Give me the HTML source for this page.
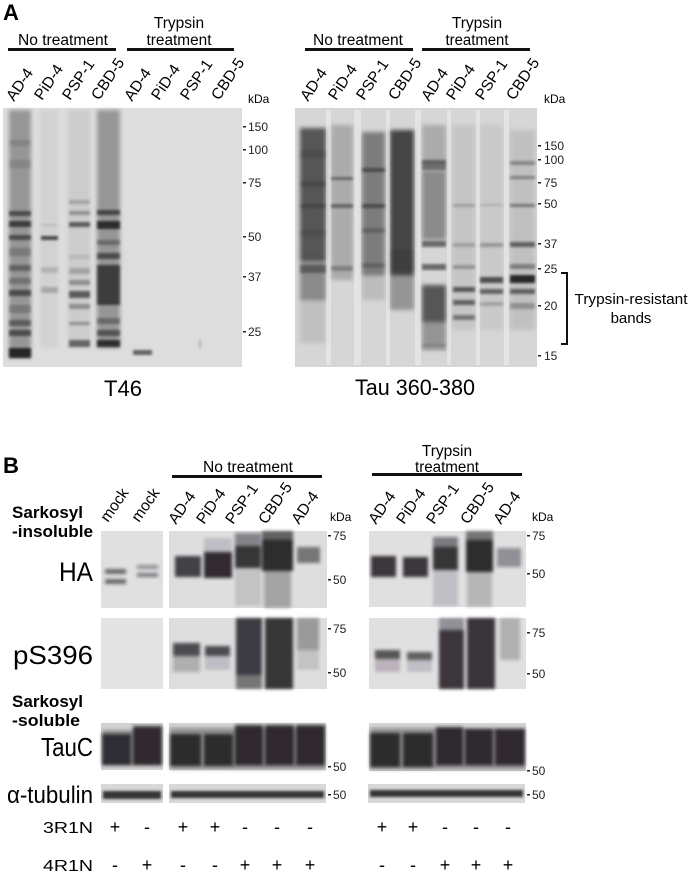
<!DOCTYPE html>
<html><head><meta charset="utf-8"><style>
html,body{margin:0;padding:0;background:#fff;}
svg{display:block;font-family:"Liberation Sans",Arial,sans-serif;}
</style></head><body>
<svg width="691" height="873" viewBox="0 0 691 873" xmlns="http://www.w3.org/2000/svg">
<defs>
<filter id="f" x="-50%" y="-50%" width="200%" height="200%"><feGaussianBlur stdDeviation="1.2"/></filter>
<filter id="fb" x="-50%" y="-50%" width="200%" height="200%"><feGaussianBlur stdDeviation="1.7"/></filter>
<filter id="f2" x="-50%" y="-50%" width="200%" height="200%"><feGaussianBlur stdDeviation="2.2"/></filter>
</defs>

<!-- ============ PANEL A ============ -->
<text x="3" y="20" font-size="22" font-weight="bold">A</text>
<text x="18" y="45" font-size="15.5" textLength="90" lengthAdjust="spacingAndGlyphs">No treatment</text>
<rect x="8" y="48" width="108" height="3" fill="#111"/>
<text x="179" y="28" font-size="15.5" text-anchor="middle">Trypsin</text>
<text x="179" y="45" font-size="15.5" text-anchor="middle" textLength="65" lengthAdjust="spacingAndGlyphs">treatment</text>
<rect x="127" y="48" width="107" height="3" fill="#111"/>

<text x="313" y="45" font-size="15.5" textLength="90" lengthAdjust="spacingAndGlyphs">No treatment</text>
<rect x="305" y="48" width="108" height="3" fill="#111"/>
<text x="477" y="28" font-size="15.5" text-anchor="middle">Trypsin</text>
<text x="477" y="45" font-size="15.5" text-anchor="middle" textLength="63" lengthAdjust="spacingAndGlyphs">treatment</text>
<rect x="422" y="48" width="108" height="3" fill="#111"/>

<g font-size="15.5">
<text transform="translate(14,102) rotate(-56)">AD-4</text>
<text transform="translate(42,101) rotate(-56)">PiD-4</text>
<text transform="translate(70,101) rotate(-56)">PSP-1</text>
<text transform="translate(99,101) rotate(-56)">CBD-5</text>
<text transform="translate(132,102) rotate(-56)">AD-4</text>
<text transform="translate(159,101) rotate(-56)">PiD-4</text>
<text transform="translate(188,101) rotate(-56)">PSP-1</text>
<text transform="translate(219,101) rotate(-56)">CBD-5</text>

<text transform="translate(308,102) rotate(-56)">AD-4</text>
<text transform="translate(336,101) rotate(-56)">PiD-4</text>
<text transform="translate(364,101) rotate(-56)">PSP-1</text>
<text transform="translate(396,101) rotate(-56)">CBD-5</text>
<text transform="translate(429,102) rotate(-56)">AD-4</text>
<text transform="translate(454,101) rotate(-56)">PiD-4</text>
<text transform="translate(483,101) rotate(-56)">PSP-1</text>
<text transform="translate(514,101) rotate(-56)">CBD-5</text>
</g>
<text x="248" y="103" font-size="12">kDa</text>
<text x="544" y="103" font-size="12">kDa</text>

<!-- left blot A -->
<rect x="3" y="108" width="239" height="259" fill="#dddddd"/>
<g fill="#000" filter="url(#f2)">
 <rect x="9" y="110" width="22" height="248" fill-opacity=".32"/>
 <rect x="97" y="110" width="23" height="238" fill-opacity=".32"/>
 <rect x="40" y="110" width="18" height="238" fill-opacity=".05"/>
 <rect x="68" y="110" width="22" height="238" fill-opacity=".08"/>
</g>
<g fill="#000" filter="url(#f)">
 <rect x="9" y="140" width="22" height="6" fill-opacity=".12"/>
 <rect x="9" y="160" width="22" height="8" fill-opacity=".12"/>
 <rect x="9" y="211" width="22" height="5" fill-opacity=".5"/>
 <rect x="9" y="221" width="22" height="6" fill-opacity=".6"/>
 <rect x="9" y="235" width="22" height="5" fill-opacity=".5"/>
 <rect x="9" y="248" width="22" height="8" fill-opacity=".2"/>
 <rect x="9" y="265" width="22" height="6" fill-opacity=".35"/>
 <rect x="9" y="278" width="22" height="6" fill-opacity=".25"/>
 <rect x="9" y="290" width="22" height="6" fill-opacity=".5"/>
 <rect x="9" y="305" width="22" height="8" fill-opacity=".2"/>
 <rect x="9" y="320" width="22" height="6" fill-opacity=".4"/>
 <rect x="9" y="330" width="22" height="6" fill-opacity=".5"/>
 <rect x="9" y="348" width="22" height="10" fill-opacity=".75"/>

 <rect x="41" y="236" width="17" height="4" fill-opacity=".65"/>
 <rect x="41" y="224" width="17" height="2" fill-opacity=".12"/>
 <rect x="41" y="267" width="17" height="6" fill-opacity=".15"/>
 <rect x="41" y="287" width="17" height="6" fill-opacity=".2"/>

 <rect x="69" y="200" width="21" height="4" fill-opacity=".2"/>
 <rect x="69" y="211" width="21" height="4" fill-opacity=".3"/>
 <rect x="69" y="222" width="21" height="5" fill-opacity=".55"/>
 <rect x="69" y="255" width="21" height="4" fill-opacity=".1"/>
 <rect x="69" y="268" width="21" height="6" fill-opacity=".2"/>
 <rect x="69" y="280" width="21" height="5" fill-opacity=".3"/>
 <rect x="69" y="291" width="21" height="7" fill-opacity=".55"/>
 <rect x="69" y="304" width="21" height="5" fill-opacity=".3"/>
 <rect x="69" y="322" width="21" height="3" fill-opacity=".3"/>
 <rect x="69" y="340" width="21" height="7" fill-opacity=".5"/>

 <rect x="97" y="210" width="23" height="5" fill-opacity=".55"/>
 <rect x="97" y="221" width="23" height="8" fill-opacity=".7"/>
 <rect x="97" y="240" width="23" height="5" fill-opacity=".3"/>
 <rect x="97" y="253" width="23" height="6" fill-opacity=".5"/>
 <rect x="97" y="265" width="23" height="40" fill-opacity=".6"/>
 <rect x="97" y="318" width="23" height="6" fill-opacity=".3"/>
 <rect x="97" y="330" width="23" height="6" fill-opacity=".45"/>
 <rect x="97" y="340" width="23" height="7" fill-opacity=".7"/>

 <rect x="133" y="350" width="19" height="5" fill-opacity=".55"/>
 <rect x="199" y="340" width="2" height="8" fill-opacity=".2"/>
</g>

<g font-size="12" fill="#222">
 <rect x="243" y="126" width="3" height="1.5"/><text x="248" y="131">150</text>
 <rect x="243" y="149" width="3" height="1.5"/><text x="248" y="154">100</text>
 <rect x="243" y="182" width="3" height="1.5"/><text x="248" y="187">75</text>
 <rect x="243" y="236" width="3" height="1.5"/><text x="248" y="241">50</text>
 <rect x="243" y="276" width="3" height="1.5"/><text x="248" y="281">37</text>
 <rect x="243" y="331" width="3" height="1.5"/><text x="248" y="336">25</text>
</g>

<!-- right blot A -->
<rect x="295" y="108" width="242" height="259" fill="#d6d6d6"/>
<g fill="#000" filter="url(#f2)">
 <rect x="300" y="128" width="26" height="132" fill-opacity=".6"/>
 <rect x="300" y="258" width="26" height="42" fill-opacity=".35"/>
 <rect x="300" y="298" width="26" height="45" fill-opacity=".1"/>
 <rect x="331" y="125" width="22" height="155" fill-opacity=".2"/>
 <rect x="362" y="132" width="23" height="143" fill-opacity=".42"/>
 <rect x="362" y="273" width="23" height="27" fill-opacity=".12"/>
 <rect x="390" y="130" width="24" height="145" fill-opacity=".68"/>
 <rect x="390" y="273" width="24" height="37" fill-opacity=".3"/>
 <rect x="422" y="125" width="24" height="40" fill-opacity=".2"/>
 <rect x="422" y="170" width="24" height="70" fill-opacity=".35"/>
 <rect x="422" y="285" width="24" height="37" fill-opacity=".6"/>
 <rect x="422" y="322" width="24" height="25" fill-opacity=".3"/>
 <rect x="452" y="125" width="23" height="205" fill-opacity=".08"/>
 <rect x="480" y="125" width="23" height="205" fill-opacity=".06"/>
 <rect x="510" y="130" width="25" height="200" fill-opacity=".1"/>
</g>
<g fill="#fff" fill-opacity=".35">
 <rect x="326" y="110" width="5" height="255"/>
 <rect x="354" y="110" width="7" height="255"/>
 <rect x="386" y="110" width="4" height="255"/>
 <rect x="415" y="110" width="6" height="255"/>
 <rect x="447" y="110" width="4" height="255"/>
 <rect x="476" y="110" width="4" height="255"/>
 <rect x="504" y="110" width="5" height="255"/>
</g>
<g fill="#000" filter="url(#f)">
 <rect x="300" y="150" width="26" height="8" fill-opacity=".1"/>
 <rect x="300" y="181" width="26" height="6" fill-opacity=".15"/>
 <rect x="300" y="204" width="26" height="4" fill-opacity=".2"/>
 <rect x="300" y="230" width="26" height="6" fill-opacity=".1"/>
 <rect x="300" y="265" width="26" height="8" fill-opacity=".35"/>
 <rect x="331" y="177" width="22" height="3" fill-opacity=".4"/>
 <rect x="331" y="204" width="22" height="4" fill-opacity=".4"/>
 <rect x="331" y="266" width="22" height="5" fill-opacity=".25"/>
 <rect x="362" y="168" width="23" height="4" fill-opacity=".4"/>
 <rect x="362" y="204" width="23" height="4" fill-opacity=".4"/>
 <rect x="362" y="228" width="23" height="5" fill-opacity=".2"/>
 <rect x="362" y="263" width="23" height="5" fill-opacity=".2"/>
 <rect x="390" y="250" width="24" height="20" fill-opacity=".1"/>
 <rect x="422" y="160" width="24" height="10" fill-opacity=".45"/>
 <rect x="422" y="241" width="24" height="6" fill-opacity=".5"/>
 <rect x="422" y="264" width="24" height="6" fill-opacity=".5"/>
 <rect x="422" y="344" width="24" height="7" fill-opacity=".2"/>
 <rect x="453" y="204" width="22" height="3" fill-opacity=".2"/>
 <rect x="453" y="243" width="22" height="4" fill-opacity=".2"/>
 <rect x="453" y="265" width="22" height="4" fill-opacity=".25"/>
 <rect x="453" y="287" width="22" height="5" fill-opacity=".55"/>
 <rect x="453" y="300" width="22" height="5" fill-opacity=".5"/>
 <rect x="453" y="315" width="22" height="5" fill-opacity=".4"/>
 <rect x="480" y="204" width="23" height="2" fill-opacity=".15"/>
 <rect x="480" y="243" width="23" height="4" fill-opacity=".25"/>
 <rect x="480" y="277" width="23" height="6" fill-opacity=".6"/>
 <rect x="480" y="289" width="23" height="5" fill-opacity=".5"/>
 <rect x="480" y="302" width="23" height="4" fill-opacity=".2"/>
 <rect x="510" y="161" width="25" height="4" fill-opacity=".3"/>
 <rect x="510" y="176" width="25" height="3" fill-opacity=".35"/>
 <rect x="510" y="204" width="25" height="3" fill-opacity=".4"/>
 <rect x="510" y="242" width="25" height="5" fill-opacity=".5"/>
 <rect x="510" y="264" width="25" height="5" fill-opacity=".35"/>
 <rect x="510" y="275" width="25" height="8" fill-opacity=".8"/>
 <rect x="510" y="289" width="25" height="5" fill-opacity=".5"/>
 <rect x="510" y="303" width="25" height="6" fill-opacity=".25"/>
</g>
<g font-size="12" fill="#222">
 <rect x="538" y="145" width="3" height="1.5"/><text x="544" y="150">150</text>
 <rect x="538" y="159" width="3" height="1.5"/><text x="544" y="164">100</text>
 <rect x="538" y="182" width="3" height="1.5"/><text x="544" y="187">75</text>
 <rect x="538" y="203" width="3" height="1.5"/><text x="544" y="208">50</text>
 <rect x="538" y="243" width="3" height="1.5"/><text x="544" y="248">37</text>
 <rect x="538" y="268" width="3" height="1.5"/><text x="544" y="273">25</text>
 <rect x="538" y="305" width="3" height="1.5"/><text x="544" y="310">20</text>
 <rect x="538" y="355" width="3" height="1.5"/><text x="544" y="360">15</text>
</g>
<path d="M561 273 H567 V344 H561" fill="none" stroke="#111" stroke-width="2"/>
<text x="631" y="304" font-size="15" text-anchor="middle" textLength="113" lengthAdjust="spacingAndGlyphs">Trypsin-resistant</text>
<text x="631" y="323" font-size="15" text-anchor="middle">bands</text>

<text x="123" y="396" font-size="22" text-anchor="middle">T46</text>
<text x="415" y="395" font-size="22" text-anchor="middle" textLength="120" lengthAdjust="spacingAndGlyphs">Tau 360-380</text>

<!-- ============ PANEL B ============ -->
<text x="3" y="473" font-size="22" font-weight="bold">B</text>
<text x="203" y="472" font-size="15.5" textLength="90" lengthAdjust="spacingAndGlyphs">No treatment</text>
<rect x="172" y="475" width="150" height="3" fill="#111"/>
<text x="447" y="456" font-size="15.5" text-anchor="middle">Trypsin</text>
<text x="447" y="472" font-size="15.5" text-anchor="middle" textLength="64" lengthAdjust="spacingAndGlyphs">treatment</text>
<rect x="372" y="473" width="150" height="3" fill="#111"/>

<g font-size="15.5">
<text transform="translate(108,523) rotate(-55)">mock</text>
<text transform="translate(139,523) rotate(-55)">mock</text>
<text transform="translate(176,525) rotate(-55)">AD-4</text>
<text transform="translate(204,525) rotate(-55)">PiD-4</text>
<text transform="translate(233,525) rotate(-55)">PSP-1</text>
<text transform="translate(266,525) rotate(-55)">CBD-5</text>
<text transform="translate(299,525) rotate(-55)">AD-4</text>
<text transform="translate(376,525) rotate(-55)">AD-4</text>
<text transform="translate(404,525) rotate(-55)">PiD-4</text>
<text transform="translate(434,525) rotate(-55)">PSP-1</text>
<text transform="translate(468,525) rotate(-55)">CBD-5</text>
<text transform="translate(501,525) rotate(-55)">AD-4</text>
</g>
<text x="330" y="521" font-size="12">kDa</text>
<text x="532" y="521" font-size="12">kDa</text>

<text x="12" y="518" font-size="17" font-weight="bold" textLength="71" lengthAdjust="spacingAndGlyphs">Sarkosyl</text>
<text x="12" y="537" font-size="17" font-weight="bold" textLength="81" lengthAdjust="spacingAndGlyphs">-insoluble</text>
<text x="93" y="581" font-size="27" text-anchor="end" textLength="34" lengthAdjust="spacingAndGlyphs">HA</text>
<text x="93" y="664" font-size="26" text-anchor="end" textLength="80" lengthAdjust="spacingAndGlyphs">pS396</text>
<text x="12" y="707" font-size="17" font-weight="bold" textLength="71" lengthAdjust="spacingAndGlyphs">Sarkosyl</text>
<text x="12" y="726" font-size="17" font-weight="bold" textLength="68" lengthAdjust="spacingAndGlyphs">-soluble</text>
<text x="93" y="756" font-size="26" text-anchor="end" textLength="52" lengthAdjust="spacingAndGlyphs">TauC</text>
<text x="93" y="803" font-size="24" text-anchor="end" textLength="86" lengthAdjust="spacingAndGlyphs">α-tubulin</text>

<!-- HA -->
<rect x="101" y="531" width="62" height="77" fill="#e0e0e0"/>
<rect x="169" y="531" width="158" height="77" fill="#dedede"/>
<rect x="369" y="531" width="157" height="76" fill="#e0e0e0"/>
<g fill="#1c1b20" filter="url(#fb)">
 <rect x="105" y="569" width="21" height="5" fill-opacity=".6"/>
 <rect x="105" y="579" width="21" height="5" fill-opacity=".6"/>
 <rect x="137" y="565" width="21" height="4" fill-opacity=".4"/>
 <rect x="137" y="573" width="21" height="4" fill-opacity=".5"/>

 <rect x="175" y="556" width="26" height="21" fill-opacity=".8"/>
 <rect x="204" y="538" width="28" height="14" fill-opacity=".15"/>
 <rect x="204" y="552" width="28" height="26" fill-opacity=".9"/>
 <rect x="235" y="533" width="26" height="13" fill-opacity=".45"/>
 <rect x="235" y="546" width="26" height="22" fill-opacity=".88"/>
 <rect x="235" y="568" width="26" height="38" fill-opacity=".12"/>
 <rect x="262" y="531" width="31" height="10" fill-opacity=".65"/>
 <rect x="262" y="540" width="31" height="31" fill-opacity=".92"/>
 <rect x="264" y="571" width="27" height="37" fill-opacity=".3"/>
 <rect x="297" y="547" width="23" height="16" fill-opacity=".55"/>

 <rect x="371" y="556" width="25" height="21" fill-opacity=".85"/>
 <rect x="403" y="557" width="25" height="20" fill-opacity=".85"/>
 <rect x="433" y="537" width="25" height="10" fill-opacity=".5"/>
 <rect x="433" y="547" width="25" height="23" fill-opacity=".88"/>
 <rect x="433" y="570" width="25" height="36" fill-opacity=".15"/>
 <rect x="466" y="531" width="27" height="9" fill-opacity=".55"/>
 <rect x="466" y="540" width="27" height="32" fill-opacity=".92"/>
 <rect x="467" y="572" width="25" height="35" fill-opacity=".22"/>
 <rect x="497" y="548" width="24" height="19" fill-opacity=".4"/>
</g>

<!-- pS396 -->
<rect x="101" y="618" width="62" height="71" fill="#e4e4e4"/>
<rect x="169" y="618" width="158" height="71" fill="#dedede"/>
<rect x="369" y="618" width="157" height="71" fill="#e0e0e0"/>
<g fill="#1c1b20" filter="url(#fb)">
 <rect x="173" y="643" width="27" height="13" fill-opacity=".75"/>
 <rect x="173" y="656" width="27" height="16" fill-opacity=".25"/>
 <rect x="205" y="646" width="25" height="10" fill-opacity=".75"/>
 <rect x="205" y="656" width="25" height="14" fill-opacity=".15"/>
 <rect x="236" y="618" width="26" height="57" fill-opacity=".82"/>
 <rect x="236" y="675" width="26" height="14" fill-opacity=".55"/>
 <rect x="265" y="618" width="28" height="71" fill-opacity=".88"/>
 <rect x="297" y="618" width="22" height="32" fill-opacity=".35"/>
 <rect x="297" y="650" width="22" height="20" fill-opacity=".12"/>

 <rect x="375" y="650" width="25" height="9" fill-opacity=".7"/>
 <rect x="375" y="659" width="25" height="13" fill-opacity=".2"/>
 <rect x="407" y="652" width="25" height="8" fill-opacity=".65"/>
 <rect x="407" y="660" width="25" height="12" fill-opacity=".15"/>
 <rect x="439" y="618" width="25" height="12" fill-opacity=".4"/>
 <rect x="439" y="630" width="25" height="59" fill-opacity=".85"/>
 <rect x="467" y="618" width="28" height="71" fill-opacity=".86"/>
 <rect x="500" y="618" width="20" height="42" fill-opacity=".25"/>
</g>

<!-- TauC -->
<rect x="101" y="723" width="62" height="47" fill="#d2d2d2"/>
<rect x="169" y="723" width="157" height="47" fill="#d2d2d2"/>
<rect x="369" y="723" width="157" height="48" fill="#d4d4d4"/>
<g fill="#1c1b20" filter="url(#fb)">
 <rect x="102" y="730" width="60" height="36" fill-opacity=".35"/>
 <rect x="170" y="728" width="155" height="38" fill-opacity=".35"/>
 <rect x="370" y="728" width="155" height="38" fill-opacity=".35"/>
 <rect x="102" y="734" width="29" height="31" fill-opacity=".82"/>
 <rect x="133" y="726" width="29" height="39" fill-opacity=".85"/>
 <rect x="170" y="734" width="31" height="32" fill-opacity=".88"/>
 <rect x="204" y="734" width="29" height="32" fill-opacity=".88"/>
 <rect x="235" y="725" width="28" height="40" fill-opacity=".86"/>
 <rect x="265" y="725" width="29" height="40" fill-opacity=".86"/>
 <rect x="296" y="725" width="29" height="40" fill-opacity=".86"/>
 <rect x="170" y="765" width="155" height="5" fill-opacity=".3"/>

 <rect x="370" y="733" width="30" height="34" fill-opacity=".88"/>
 <rect x="403" y="733" width="30" height="34" fill-opacity=".88"/>
 <rect x="436" y="727" width="27" height="38" fill-opacity=".85"/>
 <rect x="465" y="729" width="28" height="36" fill-opacity=".85"/>
 <rect x="495" y="729" width="30" height="36" fill-opacity=".85"/>
 <rect x="370" y="765" width="155" height="5" fill-opacity=".3"/>
</g>

<!-- tubulin -->
<rect x="101" y="784" width="62" height="19" fill="#d8d8d8"/>
<rect x="169" y="784" width="157" height="19" fill="#d8d8d8"/>
<rect x="368" y="784" width="157" height="19" fill="#d8d8d8"/>
<g fill="#1c1b20" filter="url(#f)">
 <rect x="103" y="791" width="58" height="8" fill-opacity=".88"/>
 <rect x="171" y="791" width="153" height="7" fill-opacity=".88"/>
 <rect x="370" y="790" width="153" height="7" fill-opacity=".88"/>
</g>

<!-- markers B -->
<g font-size="12" fill="#222">
 <rect x="328" y="535" width="3" height="1.5"/><text x="333" y="540">75</text>
 <rect x="328" y="579" width="3" height="1.5"/><text x="333" y="584">50</text>
 <rect x="328" y="628" width="3" height="1.5"/><text x="333" y="633">75</text>
 <rect x="328" y="672" width="3" height="1.5"/><text x="333" y="677">50</text>
 <rect x="328" y="766" width="3" height="1.5"/><text x="333" y="771">50</text>
 <rect x="328" y="794" width="3" height="1.5"/><text x="333" y="799">50</text>

 <rect x="527" y="535" width="3" height="1.5"/><text x="532" y="540">75</text>
 <rect x="527" y="573" width="3" height="1.5"/><text x="532" y="578">50</text>
 <rect x="527" y="632" width="3" height="1.5"/><text x="532" y="637">75</text>
 <rect x="527" y="673" width="3" height="1.5"/><text x="532" y="678">50</text>
 <rect x="527" y="770" width="3" height="1.5"/><text x="532" y="775">50</text>
 <rect x="527" y="794" width="3" height="1.5"/><text x="532" y="799">50</text>
</g>

<!-- genotype rows -->
<text x="93" y="833" font-size="16" text-anchor="end" textLength="50" lengthAdjust="spacingAndGlyphs">3R1N</text>
<text x="93" y="871" font-size="16" text-anchor="end" textLength="50" lengthAdjust="spacingAndGlyphs">4R1N</text>
<g font-size="18" text-anchor="middle">
 <text x="115" y="833">+</text><text x="147" y="833">-</text><text x="183" y="833">+</text><text x="215" y="833">+</text><text x="245" y="833">-</text><text x="277" y="833">-</text><text x="310" y="833">-</text>
 <text x="382" y="833">+</text><text x="413" y="833">+</text><text x="445" y="833">-</text><text x="476" y="833">-</text><text x="508" y="833">-</text>
 <text x="115" y="871">-</text><text x="147" y="871">+</text><text x="183" y="871">-</text><text x="215" y="871">-</text><text x="245" y="871">+</text><text x="277" y="871">+</text><text x="310" y="871">+</text>
 <text x="382" y="871">-</text><text x="413" y="871">-</text><text x="445" y="871">+</text><text x="476" y="871">+</text><text x="508" y="871">+</text>
</g>
</svg>
</body></html>
